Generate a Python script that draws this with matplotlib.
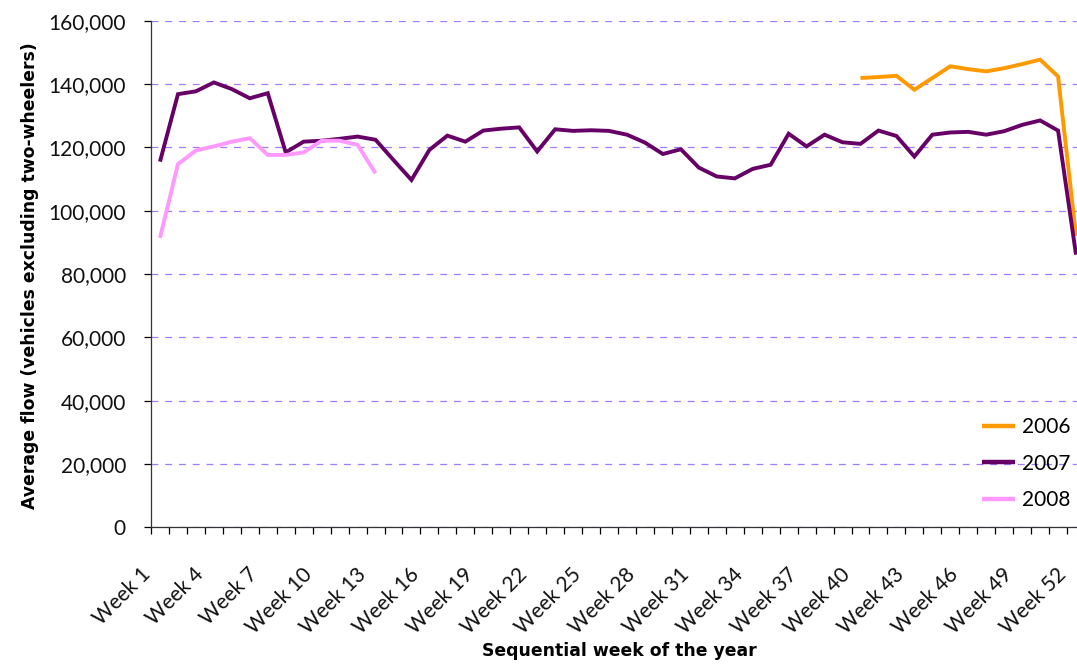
#!/usr/bin/env python3
"""Average weekly traffic flow by sequential week, 2006-2008."""

import matplotlib
matplotlib.use("Agg")
import matplotlib.pyplot as plt
import matplotlib.transforms as mtransforms
import numpy as np
from matplotlib.ticker import FixedLocator, FuncFormatter

WEEKS = list(range(1, 53))
WEEK_LABELS = [f"Week {w}" for w in range(1, 53, 3)]

# values in vehicles
FLOW_2006_WEEKS = list(range(40, 53))
FLOW_2006 = [141900, 142200, 142600, 138200, 141900, 145600, 144700,
             144000, 145000, 146300, 147700, 142400, 92000]

FLOW_2007 = [115500, 136800, 137700, 140500, 138400, 135500, 137100, 118400,
             121800, 122100, 122700, 123400, 122400, 116000, 109700, 119200,
             123700, 121800, 125300, 125900, 126300, 118700, 125700, 125200,
             125400, 125200, 124000, 121500, 117900, 119400, 113600, 110800,
             110200, 113200, 114500, 124300, 120300, 124000, 121600, 121100,
             125300, 123600, 117100, 124000, 124700, 124900, 124000, 125100,
             127100, 128500, 125300, 86100]

FLOW_2008_WEEKS = list(range(1, 14))
FLOW_2008 = [91400, 114700, 119000, 120300, 121800, 122900, 117600, 117600,
             118400, 122100, 122100, 120800, 111800]

SERIES = [
    ("2006", FLOW_2006_WEEKS, FLOW_2006, "#ff9900"),
    ("2007", WEEKS, FLOW_2007, "#660066"),
    ("2008", FLOW_2008_WEEKS, FLOW_2008, "#ff99ff"),
]

TICK_FONT = "Lato"
LABEL_FONT = "DejaVu Sans"


def main() -> None:
    fig = plt.figure(figsize=(10.77, 6.64), dpi=100)
    # plot area runs past the right edge, as in the cropped original
    ax = fig.add_axes([151 / 1077, 1 - 527.3 / 664, 934 / 1077, 506.6 / 664])

    for label, x, y, color in SERIES:
        ax.plot(x, y, color=color, linewidth=2.8, label=label,
                solid_joinstyle="miter", solid_capstyle="butt")

    ax.set_xlim(0.5, 52.5)
    ax.set_ylim(0, 160000)

    ax.set_yticks(np.arange(0, 160001, 20000))
    ax.yaxis.set_major_formatter(FuncFormatter(lambda v, _: f"{v:,.0f}"))
    ax.grid(axis="y", color="#a07cff", linewidth=0.9, linestyle=(0, (5.5, 5.5)))
    ax.set_axisbelow(True)

    ax.xaxis.set_major_locator(FixedLocator(list(range(1, 53, 3))))
    ax.set_xticklabels(WEEK_LABELS)
    ax.xaxis.set_minor_locator(FixedLocator(np.arange(0.5, 53, 1)))
    ax.tick_params(axis="x", which="major", length=0, pad=10)
    ax.tick_params(axis="x", which="minor", length=5, width=0.9, direction="out")
    ax.tick_params(axis="y", length=5, width=0.9, direction="out", pad=13)

    # shift the slanted week labels down-left along their own direction
    shift = mtransforms.ScaledTranslation(-20 / 100, -23 / 100, fig.dpi_scale_trans)
    for lbl in ax.get_xticklabels():
        lbl.set_rotation(45)
        lbl.set_ha("right")
        lbl.set_rotation_mode("anchor")
        lbl.set_transform(lbl.get_transform() + shift)
    for lbl in ax.get_xticklabels() + ax.get_yticklabels():
        lbl.set_fontfamily(TICK_FONT)
        lbl.set_fontsize(15)
        lbl.set_color("#111111")

    ax.spines[["top", "right"]].set_visible(False)
    for side in ("left", "bottom"):
        ax.spines[side].set_color("#333333")
        ax.spines[side].set_linewidth(0.9)

    ax.set_xlabel("Sequential week of the year", fontfamily=LABEL_FONT,
                  fontweight="bold", fontsize=12.4)
    ax.xaxis.set_label_coords((619 - 151) / 934, (527.3 - 642) / 506.6)
    ax.set_ylabel("Average flow (vehicles excluding two-wheelers)",
                  fontfamily=LABEL_FONT, fontweight="bold", fontsize=12.4)
    ax.yaxis.set_label_coords((39 - 151) / 934, (527.3 - 276) / 506.6)

    leg = ax.legend(loc="upper left",
                    bbox_to_anchor=((982 - 151) / 934, (527.3 - 417) / 506.6),
                    borderaxespad=0, borderpad=0, frameon=False,
                    prop={"family": TICK_FONT, "size": 15},
                    handlelength=1.6, handletextpad=0.3, labelspacing=0.8)
    for line in leg.get_lines():
        line.set_linewidth(3.2)

    fig.savefig("out.png", dpi=100)
    plt.close(fig)


if __name__ == "__main__":
    main()
